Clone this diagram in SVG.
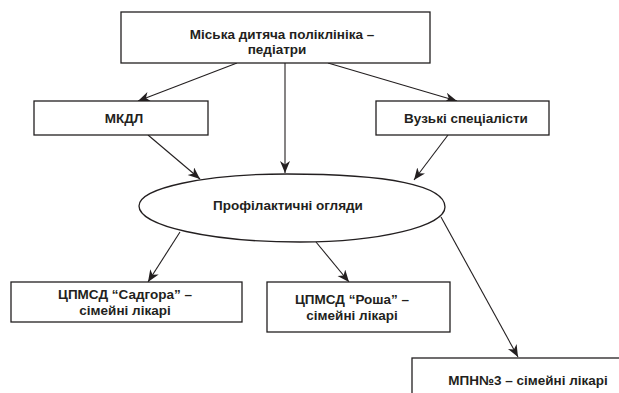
<svg xmlns="http://www.w3.org/2000/svg" width="619" height="393" viewBox="0 0 619 393">
<defs>
<style>
.box{fill:#fff;stroke:#231f20;stroke-width:1.3}
.t{font-family:"Liberation Sans",Arial,sans-serif;font-weight:bold;font-size:13.5px;fill:#231f20;text-anchor:middle}
.c{fill:none;stroke:#231f20;stroke-width:1.1}
</style>
<marker id="ah" markerUnits="userSpaceOnUse" markerWidth="14" markerHeight="12" refX="12" refY="5" orient="auto">
<path d="M0,0 L12,5 L0,10 L3.5,5 Z" fill="#231f20"/>
</marker>
</defs>
<rect width="619" height="393" fill="#fff"/>
<g id="connectors">
<line class="c" x1="237" y1="63" x2="138" y2="101" marker-end="url(#ah)"/>
<line class="c" x1="285" y1="63" x2="285" y2="173" marker-end="url(#ah)"/>
<line class="c" x1="328" y1="63" x2="457" y2="101" marker-end="url(#ah)"/>
<line class="c" x1="148" y1="135" x2="200" y2="179" marker-end="url(#ah)"/>
<line class="c" x1="448" y1="135" x2="414" y2="180" marker-end="url(#ah)"/>
<line class="c" x1="180" y1="232" x2="148" y2="282" marker-end="url(#ah)"/>
<line class="c" x1="316" y1="242" x2="349" y2="282" marker-end="url(#ah)"/>
<line class="c" x1="441" y1="217" x2="518" y2="357" marker-end="url(#ah)"/>
</g>
<g id="top">
<rect class="box" x="121" y="12" width="309" height="51"/>
<text class="t" x="282" y="39">Міська дитяча поліклініка –</text>
<text class="t" x="277" y="54">педіатри</text>
</g>
<g id="mkdl">
<rect class="box" x="34" y="101" width="174" height="34"/>
<text class="t" x="124" y="123">МКДЛ</text>
</g>
<g id="vuzki">
<rect class="box" x="376" y="101" width="173" height="34"/>
<text class="t" x="466" y="123">Вузькі спеціалісти</text>
</g>
<g id="oglyady">
<path class="box" d="M139,206 C139,188 205,174 287,174 C390,174 445,186 445,207 C445,226 380,242 300,242 C211,242 139,226 139,206 Z"/>
<text class="t" x="288" y="210">Профілактичні огляди</text>
</g>
<g id="sadgora">
<rect class="box" x="11" y="282" width="231" height="40"/>
<text class="t" x="125" y="299">ЦПМСД “Садгора” –</text>
<text class="t" x="125" y="315">сімейні лікарі</text>
</g>
<g id="rosha">
<rect class="box" x="267" y="282" width="183" height="50"/>
<text class="t" x="352" y="304">ЦПМСД “Роша” –</text>
<text class="t" x="352" y="320">сімейні лікарі</text>
</g>
<g id="mpn3">
<rect class="box" x="412" y="358" width="220" height="45"/>
<text class="t" x="528" y="385">МПН№3 – сімейні лікарі</text>
</g>
</svg>
